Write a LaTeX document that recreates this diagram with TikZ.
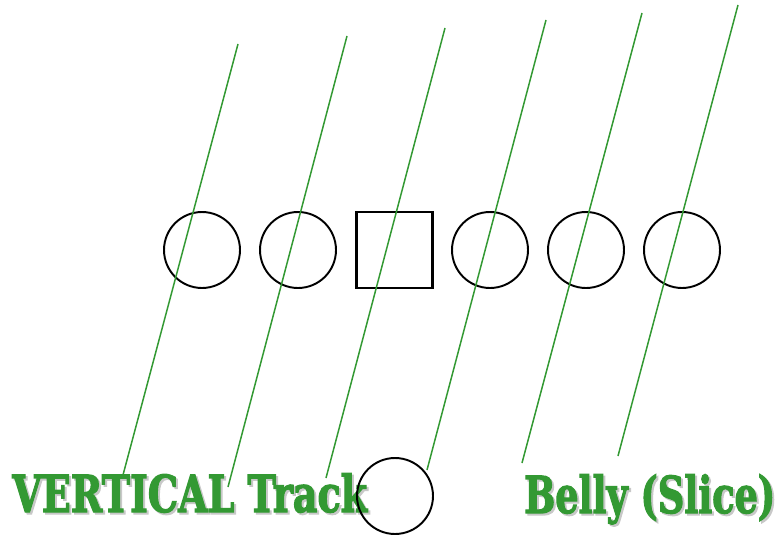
\documentclass[tikz,border=0pt]{standalone}
\usepackage{fontspec}
\usepackage{xcolor}
\usepackage{tikz}
\newfontfamily\playfont[BoldFeatures={FakeBold=2.5}]{DejaVu Serif Condensed}
\definecolor{routegreen}{RGB}{51,153,51}
\definecolor{shadowgray}{RGB}{200,200,200}

\begin{document}
\begin{tikzpicture}[x=0.02cm, y=-0.02cm,
    player/.style={draw, circle, line width=1.1pt, minimum size=1.52cm, inner sep=0pt},
    center/.style={draw, rectangle, line width=1.2pt, minimum size=1.52cm, inner sep=0pt},
    route/.style={routegreen, line width=0.85pt},
    label/.style={font=\playfont\bfseries\fontsize{29}{31}\selectfont, inner sep=0pt, anchor=base west}]
    \useasboundingbox (0,0) rectangle (778,537);

    % Titles
    \node[label, shadowgray, xscale=0.83] at (14,514) {VERTICAL Track};
    \node[label, routegreen, xscale=0.83] (vt) at (12,512) {VERTICAL Track};
    \node[label, shadowgray, xscale=0.8] at (526,515) {Belly (Slice)};
    \node[label, routegreen, xscale=0.8] (bs) at (524,513) {Belly (Slice)};

    % Offensive line
    \node[player] (lt) at (202,250) {};
    \node[player] (lg) at (298,250) {};
    \node[center] (c) at (394.5,250) {};
    \node[player] (rg) at (490,250) {};
    \node[player] (rt) at (586,250) {};
    \node[player] (te) at (682,250) {};

    % Back
    \node[player] (qb) at (395,496) {};

    % Route lines
    \coordinate (r1a) at (123,475); \coordinate (r1b) at (238,44);
    \coordinate (r2a) at (228,487); \coordinate (r2b) at (347,36);
    \coordinate (r3a) at (326,478); \coordinate (r3b) at (445,28);
    \coordinate (r4a) at (427,470); \coordinate (r4b) at (546,20);
    \coordinate (r5a) at (522,463); \coordinate (r5b) at (642,13);
    \coordinate (r6a) at (618,456); \coordinate (r6b) at (738,5);
    \foreach \i in {1,...,6}
        \draw[route] (r\i a) -- (r\i b);
\end{tikzpicture}
\end{document}
